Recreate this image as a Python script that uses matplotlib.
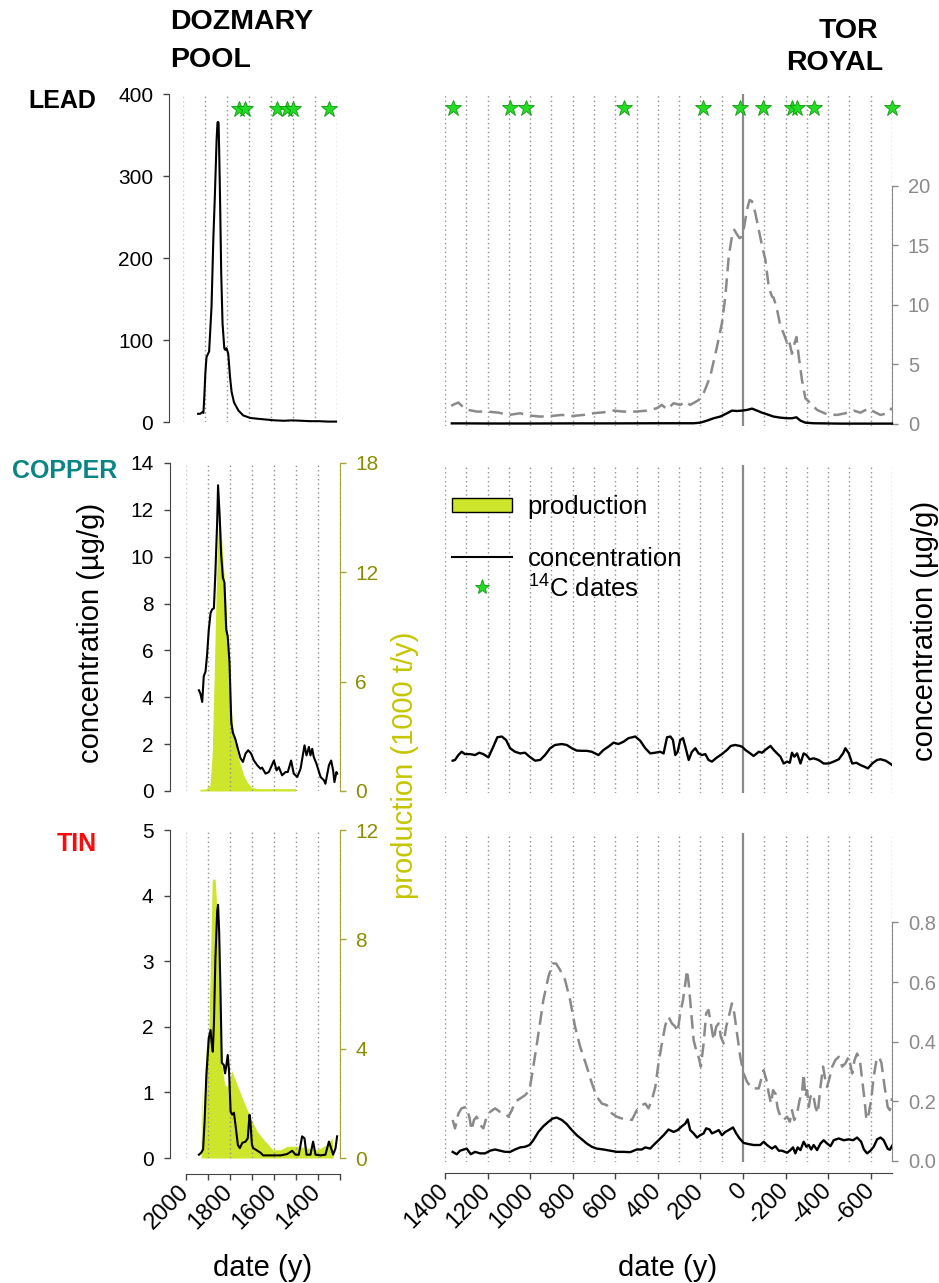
import matplotlib
matplotlib.use("Agg")
import matplotlib.pyplot as plt
from matplotlib.patches import Patch
from matplotlib.lines import Line2D

plt.rcParams['font.family'] = ['Liberation Sans', 'DejaVu Sans']
plt.rcParams['mathtext.fontset'] = 'custom'
plt.rcParams['mathtext.rm'] = 'Liberation Sans'

# --- DOZMARY POOL (years AD) ---
dz_pb_year = [1929, 1920, 1910, 1905, 1901, 1896, 1891, 1879, 1868, 1860, 1853, 1845, 1841,
              1839, 1836, 1834, 1830, 1824, 1818, 1810, 1806, 1800, 1792, 1784, 1777, 1766,
              1746, 1724, 1693, 1660, 1620, 1580, 1540, 1500, 1460, 1420, 1380, 1340, 1302]
dz_pb = [10, 10, 12, 11, 30, 60, 79, 86, 141, 222, 275, 344, 365,
         366, 365, 340, 283, 181, 120, 90, 88, 90, 83, 55, 37, 24,
         14, 8, 5, 4, 3, 2, 1.5, 2, 1.5, 1, 1, 0.5, 0.5]

dz_cu_year = [1939, 1932, 1924, 1917, 1909, 1902, 1894, 1886, 1879, 1871, 1864, 1856, 1852,
              1845, 1838, 1830, 1823, 1815, 1808, 1800, 1792, 1785, 1773, 1762, 1750, 1739,
              1727, 1715, 1702, 1689, 1674, 1659, 1652, 1636, 1621, 1598, 1586, 1576, 1561,
              1545, 1535, 1520, 1508, 1492, 1477, 1459, 1450, 1439, 1432, 1424, 1417, 1405,
              1386, 1371, 1364, 1348, 1338, 1329, 1323, 1314, 1311]
dz_cu = [4.3, 4.15, 3.8, 4.9, 5.1, 5.8, 6.9, 7.6, 7.75, 7.8, 9.35, 11.5, 13.05,
         11.8, 10.1, 9.1, 8.9, 6.9, 6.6, 5.5, 2.95, 2.5, 2.2, 1.8, 1.4, 1.24,
         1.6, 1.74, 1.6, 1.3, 1.1, 0.95, 1.0, 0.74, 0.81, 1.3, 0.88, 1.02, 0.67,
         0.81, 0.81, 1.3, 0.74, 0.6, 0.95, 1.95, 1.52, 1.88, 1.52, 1.8, 1.45, 1.17,
         0.6, 0.46, 0.31, 1.1, 1.3, 0.88, 0.38, 0.81, 0.74]

dz_cu_prod_year = [1934, 1909, 1889, 1879, 1871, 1864, 1856, 1848, 1845, 1838, 1829, 1818,
                   1811, 1800, 1792, 1780, 1765, 1750, 1735, 1720, 1702, 1674, 1500]
dz_cu_prod = [0.1, 0.1, 0.31, 1.96, 5.6, 9.3, 12.9, 15.1, 15.3, 14.2, 12.6, 10.7,
              8.9, 6.7, 4.5, 2.9, 2.1, 1.4, 0.86, 0.49, 0.22, 0.13, 0.13]

dz_sn_year = [1939, 1929, 1920, 1914, 1905, 1894, 1886, 1882, 1876, 1871, 1864, 1856, 1852,
              1847, 1841, 1835, 1826, 1820, 1814, 1808, 1802, 1795, 1788, 1780, 1773, 1762,
              1753, 1742, 1727, 1717, 1709, 1705, 1698, 1692, 1682, 1659, 1647, 1614, 1568,
              1538, 1515, 1500, 1485, 1470, 1459, 1450, 1432, 1420, 1409, 1386, 1364, 1348,
              1341, 1329, 1318, 1311]
dz_sn = [0.05, 0.08, 0.13, 0.51, 1.27, 1.83, 1.95, 1.78, 1.62, 2.03, 3.05, 3.76, 3.86,
         3.45, 2.54, 1.45, 1.42, 1.29, 1.42, 1.57, 1.32, 0.71, 0.66, 0.69, 0.51, 0.2,
         0.15, 0.23, 0.25, 0.3, 0.66, 0.56, 0.2, 0.15, 0.13, 0.08, 0.04, 0.04, 0.04,
         0.06, 0.11, 0.05, 0.05, 0.33, 0.3, 0.05, 0.05, 0.25, 0.05, 0.04, 0.05, 0.25,
         0.18, 0.05, 0.15, 0.33]

dz_sn_prod_year = [1929, 1927, 1923, 1917, 1909, 1902, 1894, 1886, 1879, 1876, 1865, 1859,
                   1853, 1847, 1841, 1833, 1822, 1810, 1800, 1790, 1765, 1742, 1720, 1697,
                   1674, 1644, 1617, 1602, 1568, 1538, 1492, 1447, 1402, 1356, 1333, 1329]
dz_sn_prod = [0, 2.8, 0.6, 1.6, 3.65, 4.4, 4.6, 7.3, 10.1, 10.2, 10.2, 9.3,
              8.0, 6.5, 5.0, 3.3, 2.7, 2.6, 2.8, 3.2, 2.68, 2.19, 1.77, 1.34,
              0.97, 0.67, 0.43, 0.3, 0.3, 0.43, 0.43, 0.37, 0.3, 0.49, 0.73, 0]

dz_c14_year = [1742, 1716, 1572, 1523, 1496, 1333]

# --- TOR ROYAL (years AD, negative = BC) ---
tr_pb_year = [1368, 1300, 1200, 1000, 800, 600, 400, 232, 201, 169, 138, 107, 75, 52, 28, 5,
              -19, -42, -66, -89, -113, -144, -176, -207, -230, -251, -270, -293, -332,
              -458, -646, -700]
tr_pb = [0.05, 0.05, 0.04, 0.04, 0.05, 0.05, 0.06, 0.06, 0.11, 0.28, 0.48, 0.62, 0.9, 1.12,
         1.09, 1.12, 1.18, 1.29, 1.12, 0.95, 0.81, 0.62, 0.53, 0.48, 0.48, 0.56, 0.28, 0.11,
         0.06, 0.03, 0.03, 0.03]

tr_pb_x_year = [1370, 1364, 1337, 1314, 1290, 1251, 1199, 1149, 1099, 1047, 1000, 953, 901,
                851, 801, 749, 702, 655, 608, 561, 503, 452, 405, 381, 357, 326, 295, 271,
                248, 209, 185, 154, 122, 99, 83, 67, 52, 41, 28, 16, 5, -6, -19, -31, -42,
                -58, -74, -89, -105, -121, -136, -144, -160, -176, -191, -207, -215, -230,
                -238, -251, -262, -277, -293, -317, -348, -395, -442, -481, -520, -552,
                -591, -614, -646, -680, -700]
tr_pb_x = [1.5, 1.6, 1.8, 1.4, 1.18, 1.04, 1.04, 0.95, 0.76, 0.9, 0.7, 0.62, 0.67,
           0.76, 0.67, 0.76, 0.9, 0.98, 1.12, 1.04, 1.04, 1.12, 1.32, 1.6, 1.23, 1.74, 1.6,
           1.88, 1.6, 2.0, 2.58, 3.98, 6.5, 8.46, 10.7, 14.06, 15.74, 16.3, 15.9, 15.6,
           15.74, 16.6, 18.0, 18.8, 18.7, 17.7, 16.3, 15.0, 13.8, 11.5, 10.7, 10.6, 9.6,
           8.2, 7.6, 6.8, 7.1, 5.9, 6.5, 7.3, 5.66, 3.7, 2.16, 1.74, 1.18, 0.81, 0.76,
           0.9, 1.12, 0.95, 1.32, 1.04, 0.76, 0.9, 1.35]

tr_cu_year = [1364, 1353, 1337, 1322, 1306, 1282, 1259, 1239, 1220, 1196, 1173, 1154, 1133,
              1113, 1094, 1071, 1047, 1024, 1003, 977, 953, 930, 906, 883, 851, 828, 804,
              781, 757, 734, 710, 679, 655, 632, 608, 585, 561, 538, 506, 483, 459, 436,
              412, 389, 373, 357, 341, 329, 318, 307, 295, 282, 271, 255, 240, 224, 209,
              193, 177, 162, 146, 122, 99, 75, 57, 36, 16, 5, -11, -34, -50, -74, -89,
              -105, -129, -144, -160, -176, -191, -207, -220, -230, -241, -254, -270, -285,
              -298, -313, -332, -355, -379, -403, -426, -450, -470, -481, -497, -513, -533,
              -552, -571, -587, -607, -630, -646, -670, -700]
tr_cu = [1.28, 1.31, 1.52, 1.66, 1.56, 1.56, 1.52, 1.62, 1.56, 1.42, 1.88, 2.28, 2.31,
         2.16, 1.81, 1.66, 1.59, 1.62, 1.45, 1.28, 1.31, 1.52, 1.81, 1.95, 1.99, 1.95, 1.81,
         1.71, 1.70, 1.70, 1.66, 1.52, 1.74, 1.88, 2.05, 1.99, 2.09, 2.24, 2.31, 2.13, 1.81,
         1.59, 1.62, 1.66, 1.59, 2.28, 2.31, 2.16, 1.52, 1.66, 2.16, 2.24, 1.88, 1.31, 1.66,
         1.81, 1.59, 1.52, 1.56, 1.31, 1.24, 1.42, 1.56, 1.74, 1.91, 1.95, 1.91, 1.88, 1.74,
         1.59, 1.48, 1.66, 1.62, 1.74, 1.91, 1.74, 1.59, 1.45, 1.16, 1.24, 1.19, 1.62, 1.45,
         1.59, 1.16, 1.59, 1.52, 1.34, 1.38, 1.31, 1.16, 1.16, 1.24, 1.34, 1.59, 1.81, 1.59,
         1.16, 1.19, 1.09, 1.02, 0.95, 1.16, 1.31, 1.34, 1.28, 1.1]

tr_sn_year = [1364, 1345, 1329, 1298, 1279, 1259, 1235, 1212, 1188, 1165, 1141, 1118, 1094,
              1071, 1047, 1024, 1003, 985, 961, 938, 914, 894, 875, 851, 828, 804, 781, 757,
              734, 710, 687, 655, 624, 593, 561, 530, 499, 475, 459, 436, 420, 397, 373,
              350, 326, 307, 287, 271, 260, 248, 232, 216, 201, 185, 173, 157, 146, 130,
              114, 99, 83, 63, 47, 32, 16, -3, -27, -50, -81, -97, -113, -136, -152, -168,
              -183, -207, -223, -235, -246, -257, -270, -285, -298, -309, -320, -332, -348,
              -364, -379, -395, -411, -426, -450, -473, -497, -517, -536, -555, -568, -583,
              -599, -614, -630, -646, -660, -680, -690, -700]
tr_sn = [0.030, 0.022, 0.034, 0.041, 0.022, 0.030, 0.025, 0.025, 0.034, 0.038, 0.034,
         0.030, 0.030, 0.038, 0.045, 0.047, 0.053, 0.069, 0.097, 0.116, 0.131, 0.142,
         0.145, 0.137, 0.123, 0.103, 0.086, 0.072, 0.058, 0.047, 0.041, 0.038, 0.034,
         0.030, 0.030, 0.029, 0.038, 0.038, 0.045, 0.041, 0.053, 0.069, 0.086, 0.105,
         0.097, 0.103, 0.116, 0.125, 0.139, 0.103, 0.092, 0.078, 0.086, 0.092, 0.109,
         0.105, 0.092, 0.097, 0.103, 0.086, 0.097, 0.105, 0.112, 0.092, 0.075, 0.060,
         0.056, 0.053, 0.053, 0.064, 0.053, 0.041, 0.049, 0.034, 0.034, 0.027, 0.036,
         0.045, 0.025, 0.045, 0.036, 0.064, 0.047, 0.053, 0.038, 0.053, 0.036, 0.058,
         0.069, 0.058, 0.049, 0.069, 0.075, 0.069, 0.072, 0.069, 0.078, 0.064, 0.038,
         0.025, 0.034, 0.047, 0.072, 0.078, 0.07, 0.04, 0.037, 0.05]

tr_sn_x_year = [1364, 1353, 1337, 1322, 1301, 1286, 1275, 1264, 1251, 1235, 1220, 1204, 1188,
                1165, 1141, 1118, 1102, 1086, 1071, 1047, 1024, 1003, 985, 961, 938, 914,
                894, 878, 859, 836, 812, 789, 765, 734, 710, 687, 663, 640, 616, 593, 569,
                546, 522, 499, 475, 459, 444, 428, 412, 397, 381, 365, 350, 334, 318, 307,
                295, 282, 271, 263, 255, 244, 232, 220, 209, 198, 185, 173, 162, 151, 138,
                126, 114, 104, 91, 79, 63, 52, 41, 28, 13, -3, -19, -42, -74, -89, -97, -110,
                -121, -132, -141, -152, -163, -176, -191, -207, -220, -230, -241, -254, -266,
                -277, -285, -293, -301, -309, -317, -329, -340, -351, -364, -376, -387, -395,
                -408, -419, -434, -450, -466, -481, -497, -513, -524, -536, -549, -560, -571,
                -580, -591, -602, -614, -627, -638, -650, -665, -680, -690, -700]
tr_sn_x = [0.137, 0.109, 0.159, 0.176, 0.181, 0.148, 0.103, 0.137, 0.148, 0.12, 0.109,
           0.148, 0.164, 0.176, 0.164, 0.159, 0.148, 0.170, 0.198, 0.209, 0.22, 0.237,
           0.316, 0.427, 0.539, 0.618, 0.662, 0.662, 0.64, 0.607, 0.539, 0.45, 0.383,
           0.316, 0.26, 0.215, 0.192, 0.187, 0.159, 0.148, 0.142, 0.142, 0.137, 0.170,
           0.187, 0.192, 0.176, 0.204, 0.248, 0.327, 0.394, 0.455, 0.483, 0.461, 0.45,
           0.433, 0.495, 0.539, 0.595, 0.64, 0.595, 0.506, 0.405, 0.371, 0.349, 0.316,
           0.394, 0.495, 0.506, 0.461, 0.405, 0.45, 0.461, 0.416, 0.394, 0.45, 0.495,
           0.528, 0.495, 0.427, 0.349, 0.293, 0.265, 0.243, 0.243, 0.282, 0.304, 0.271,
           0.226, 0.192, 0.237, 0.226, 0.176, 0.148, 0.137, 0.148, 0.131, 0.170, 0.137,
           0.159, 0.204, 0.226, 0.293, 0.215, 0.237, 0.181, 0.215, 0.226, 0.181, 0.159,
           0.248, 0.316, 0.271, 0.248, 0.282, 0.316, 0.338, 0.349, 0.316, 0.327, 0.349,
           0.293, 0.338, 0.360, 0.338, 0.271, 0.204, 0.137, 0.159, 0.204, 0.282, 0.338,
           0.349, 0.33, 0.25, 0.18, 0.17, 0.21]

tr_c14_year = [1363, 1095, 1019, 561, 188, 12, -94, -231, -252, -332, -700]

dz_grid = list(range(2000, 1299, -100))
tr_grid = list(range(1400, -701, -100))

# --- figure ---
W, H = 939, 1283
fig = plt.figure(figsize=(W / 100, H / 100), dpi=100)

PROD_FILL = '#cde52a'
OLIVE = '#8c8c00'
OLIVE_SPINE = '#a5a53a'
GREY = '#8a8a8a'
DASH = (0, (5.5, 2.8))
STAR_KW = dict(marker='*', color='#22dd22', markeredgecolor='#119911',
               markeredgewidth=0.6, linestyle='none', clip_on=False)


def box(x0, x1, top, bottom):
    return [x0 / W, 1 - bottom / H, (x1 - x0) / W, (bottom - top) / H]


def ftext(x, y, s, **kw):
    fig.text(x / W, 1 - y / H, s, **kw)


def strip(ax):
    for sp in ax.spines.values():
        sp.set_visible(False)
    ax.tick_params(axis='x', bottom=False, labelbottom=False)
    ax.tick_params(axis='y', left=False, labelleft=False, right=False, labelright=False)
    ax.patch.set_visible(False)


def dz_axes(top, bottom, x0, x1, ymax, yticks, offset):
    ax = fig.add_axes(box(x0, x1, top, bottom))
    strip(ax)
    ax.set_xlim(2000, 1300)
    ax.set_ylim(0, ymax)
    for yr in dz_grid:
        ax.axvline(yr, color='#c8c8c8' if yr == 2000 else '#8f8f8f', lw=1,
                   linestyle=(0, (1, 2.2)), zorder=1)
    ax.spines['left'].set_visible(True)
    ax.spines['left'].set_position(('outward', offset))
    ax.spines['left'].set_bounds(0, ymax)
    ax.spines['left'].set_color('#444444')
    ax.set_yticks(yticks)
    ax.tick_params(axis='y', left=True, labelleft=True, direction='out', length=4.5,
                   width=1, color='#444444', labelsize=15, pad=7)
    return ax


def prod_axis(ax, ymax, ticks):
    ax2 = ax.twinx()
    strip(ax2)
    ax2.set_ylim(0, ymax)
    ax2.spines['right'].set_visible(True)
    ax2.spines['right'].set_color(OLIVE_SPINE)
    ax2.spines['right'].set_bounds(0, ymax)
    ax2.set_yticks(ticks)
    ax2.tick_params(axis='y', right=True, labelright=True, direction='out', length=4.5,
                    width=1, color=OLIVE_SPINE, labelcolor=OLIVE, labelsize=15, pad=7)
    ax.set_zorder(ax2.get_zorder() + 1)
    return ax2


def tr_axes(top, bottom, ylim):
    ax = fig.add_axes(box(445, 892, top, bottom))
    strip(ax)
    ax.set_xlim(1400, -700)
    ax.set_ylim(*ylim)
    for yr in tr_grid:
        if yr == 0:
            ax.axvline(0, color=GREY, lw=1.6, zorder=1)
        else:
            ax.axvline(yr, color='#8f8f8f', lw=1, linestyle=(0, (1, 2.2)), zorder=1)
    return ax


def grey_axis(ax, top, ticks, labels):
    ax.spines['right'].set_visible(True)
    ax.spines['right'].set_color(GREY)
    ax.spines['right'].set_bounds(0, top)
    ax.set_yticks(ticks, labels)
    ax.tick_params(axis='y', right=True, labelright=True, direction='out', length=4.5,
                   width=1, color=GREY, labelcolor=GREY, labelsize=14.5, pad=7)


def date_axis(ax, offset, ticks, labels):
    ax.spines['bottom'].set_visible(True)
    ax.spines['bottom'].set_position(('outward', offset))
    ax.spines['bottom'].set_color('#444444')
    ax.set_xticks(ticks, labels)
    ax.tick_params(axis='x', bottom=True, labelbottom=True, direction='out', length=4.5,
                   width=1, color='#444444', labelsize=17, pad=6)
    for lab in ax.get_xticklabels():
        lab.set_rotation(45)
        lab.set_ha('right')
        lab.set_va('center')
        lab.set_rotation_mode('anchor')


# LEAD
ax = dz_axes(94, 422, 182.5, 336.5, 400, [0, 100, 200, 300, 400], 9.5)
ax.plot(dz_pb_year, dz_pb, color='black', lw=1.5, clip_on=False, zorder=3)
ax.plot(dz_c14_year, [382] * len(dz_c14_year), markersize=12, **STAR_KW)

ax = tr_axes(94, 426, (-0.17, 27.7))
ax.plot(tr_pb_x_year, tr_pb_x, color=GREY, lw=1.8, linestyle=DASH, zorder=2)
ax.plot(tr_pb_year, tr_pb, color='black', lw=1.7, clip_on=False, zorder=3)
ax.plot(tr_c14_year, [26.5] * len(tr_c14_year), markersize=12, **STAR_KW)
grey_axis(ax, 20, [0, 5, 10, 15, 20], ['0', '5', '10', '15', '20'])

# COPPER
ax = dz_axes(463, 791, 185.5, 339.5, 14, [0, 2, 4, 6, 8, 10, 12, 14], 11.5)
ax2 = prod_axis(ax, 18, [0, 6, 12, 18])
ax2.fill_between(dz_cu_prod_year, dz_cu_prod, 0, color=PROD_FILL, lw=0)
ax.plot(dz_cu_year, dz_cu, color='black', lw=1.5, clip_on=False, zorder=3)

ax = tr_axes(465, 793, (-0.1, 13.9))
ax.plot(tr_cu_year, tr_cu, color='black', lw=1.7, zorder=3)

leg1 = ax.legend(handles=[Patch(facecolor=PROD_FILL, edgecolor='black', lw=1,
                                label='production')],
                 loc='center left', bbox_to_anchor=(452 / W, 1 - 507 / H),
                 bbox_transform=fig.transFigure, frameon=False, fontsize=18.5,
                 handlelength=2.35, handleheight=0.45, handletextpad=0.6,
                 borderpad=0, borderaxespad=0)
ax.add_artist(leg1)
ax.legend(handles=[Line2D([], [], color='black', lw=1.5, label='concentration'),
                   Line2D([], [], markersize=11, label=r'$^{14}$C dates', **STAR_KW)],
          loc='center left', bbox_to_anchor=(452 / W, 1 - 574 / H),
          bbox_transform=fig.transFigure, frameon=False, fontsize=18.5,
          handlelength=2.35, handletextpad=0.6, labelspacing=0.12,
          borderpad=0, borderaxespad=0)

# TIN
ax = dz_axes(830, 1158, 185.5, 339.5, 5, [0, 1, 2, 3, 4, 5], 11.5)
ax2 = prod_axis(ax, 12, [0, 4, 8, 12])
ax2.fill_between(dz_sn_prod_year, dz_sn_prod, 0, color=PROD_FILL, lw=0)
ax.plot(dz_sn_year, dz_sn, color='black', lw=1.5, clip_on=False, zorder=3)
date_axis(ax, 11.5, dz_grid, ['2000', '', '1800', '', '1600', '', '1400', ''])

ax = tr_axes(833, 1162, (-0.004, 1.10))
ax.plot(tr_sn_x_year, tr_sn_x, color=GREY, lw=1.8, linestyle=DASH, zorder=2)
ax.plot(tr_sn_year, tr_sn, color='black', lw=1.7, zorder=3)
grey_axis(ax, 0.8, [0, 0.2, 0.4, 0.6, 0.8], ['0.0', '0.2', '0.4', '0.6', '0.8'])
tr_ticks = list(range(1400, -601, -200))
date_axis(ax, 8, tr_ticks, [str(t) for t in tr_ticks])

# --- texts ---
ftext(170, 22, 'DOZMARY', fontsize=20.5, fontweight='bold', ha='left', va='center')
ftext(170, 60, 'POOL', fontsize=20.5, fontweight='bold', ha='left', va='center')
ftext(848, 31, 'TOR', fontsize=20.5, fontweight='bold', ha='center', va='center')
ftext(835, 63, 'ROYAL', fontsize=20.5, fontweight='bold', ha='center', va='center')

ftext(28, 101, 'LEAD', fontsize=18, fontweight='bold', ha='left', va='center')
ftext(12, 471, 'COPPER', fontsize=18, fontweight='bold', ha='left', va='center',
      color='#0a8585')
ftext(57, 844, 'TIN', fontsize=18, fontweight='bold', ha='left', va='center',
      color='#ff0a0a')

ftext(91, 633, 'concentration (\u00b5g/g)', fontsize=21, rotation=90,
      ha='center', va='center')
ftext(925, 631, 'concentration (\u00b5g/g)', fontsize=21, rotation=90,
      ha='center', va='center')
ftext(405, 765, 'production (1000 t/y)', fontsize=21, rotation=90,
      ha='center', va='center', color='#c5c500')

ftext(263, 1268, 'date (y)', fontsize=21, ha='center', va='center')
ftext(668, 1268, 'date (y)', fontsize=21, ha='center', va='center')

fig.savefig('out.png', dpi=100)
